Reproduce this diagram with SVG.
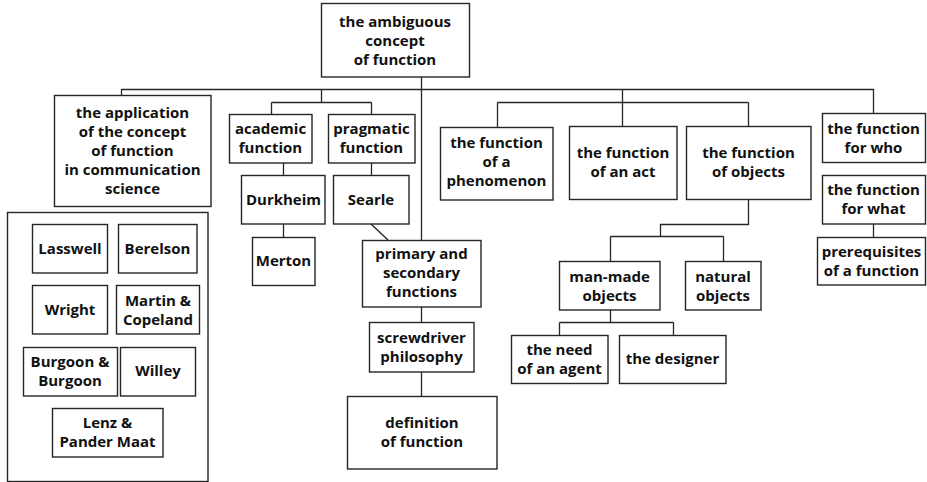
<svg xmlns="http://www.w3.org/2000/svg" width="927" height="482" viewBox="0 0 927 482">
  <style>
    .box { fill: #ffffff; stroke: #262626; stroke-width: 1.4; }
    .link { fill: none; stroke: #262626; stroke-width: 1.3; }
    text { font-family: "Open Sans", "Noto Sans", "DejaVu Sans", sans-serif; font-weight: 700; font-size: 15px; fill: #111111; text-anchor: middle; }
  </style>
  <rect width="927" height="482" fill="#ffffff"/>

  <!-- connectors -->
  <g id="connectors" class="link">
    <path d="M121.5,95 V89.5 H873.5 V113"/>
    <path d="M421.5,77 V240"/>
    <path d="M321.5,89.5 V102.5 M271.5,102.5 H371.5 M271.5,102.5 V114 M371.5,102.5 V114"/>
    <path d="M283.5,163 V175 M371.5,163 V175 M283.5,224 V237"/>
    <path d="M371,224 L388,240"/>
    <path d="M421.5,307 V322 M421.5,372 V396"/>
    <path d="M622.5,89.5 V126 M497.5,102.5 H748.5 M497.5,102.5 V127 M748.5,102.5 V126"/>
    <path d="M748.5,199 V224.5 H660.5 V236.5 M610.5,236.5 H723.5 M610.5,236.5 V261 M723.5,236.5 V261"/>
    <path d="M610.5,310 V322.5 M559.5,322.5 H673.5 M559.5,322.5 V335 M673.5,322.5 V335"/>
    <path d="M873.5,224 V237"/>
  </g>

  <!-- root -->
  <g id="ambiguous-concept">
    <rect class="box" x="321.5" y="3.5" width="148" height="73.5"/>
    <text x="395" y="26.5">the ambiguous</text>
    <text x="395" y="45.5">concept</text>
    <text x="395" y="64.5">of function</text>
  </g>

  <!-- communication science branch -->
  <g id="application">
    <rect class="box" x="54.5" y="95.5" width="156.5" height="111"/>
    <text x="132.5" y="117.5">the application</text>
    <text x="132.5" y="136.5">of the concept</text>
    <text x="132.5" y="155.5">of function</text>
    <text x="132.5" y="174.5">in communication</text>
    <text x="132.5" y="193.5">science</text>
  </g>
  <g id="authors">
    <rect class="box" x="7.5" y="212.5" width="200.5" height="269"/>
  </g>
  <g id="lasswell">
    <rect class="box" x="32.5" y="224.5" width="75" height="48.5"/>
    <text x="70" y="254">Lasswell</text>
  </g>
  <g id="berelson">
    <rect class="box" x="118.5" y="224.5" width="78.5" height="48.5"/>
    <text x="157.5" y="254">Berelson</text>
  </g>
  <g id="wright">
    <rect class="box" x="32.5" y="285.5" width="75" height="48.5"/>
    <text x="70" y="315">Wright</text>
  </g>
  <g id="martin-copeland">
    <rect class="box" x="116.5" y="285.5" width="83" height="48.5"/>
    <text x="158" y="305.5">Martin &amp;</text>
    <text x="158" y="324.5">Copeland</text>
  </g>
  <g id="burgoon">
    <rect class="box" x="23.5" y="347.5" width="94" height="48.5"/>
    <text x="70" y="367">Burgoon &amp;</text>
    <text x="70" y="386">Burgoon</text>
  </g>
  <g id="willey">
    <rect class="box" x="120.5" y="347.5" width="75" height="48.5"/>
    <text x="158" y="376">Willey</text>
  </g>
  <g id="lenz-pander-maat">
    <rect class="box" x="52.5" y="408.5" width="110.5" height="48.5"/>
    <text x="107.5" y="428">Lenz &amp;</text>
    <text x="107.5" y="447">Pander Maat</text>
  </g>

  <!-- academic / pragmatic -->
  <g id="academic">
    <rect class="box" x="229.5" y="114.5" width="82.5" height="48.5"/>
    <text x="270.5" y="134">academic</text>
    <text x="270.5" y="153">function</text>
  </g>
  <g id="pragmatic">
    <rect class="box" x="328.5" y="114.5" width="86.5" height="48.5"/>
    <text x="371.5" y="134">pragmatic</text>
    <text x="371.5" y="153">function</text>
  </g>
  <g id="durkheim">
    <rect class="box" x="241.5" y="175.5" width="83.5" height="48.5"/>
    <text x="283.5" y="205">Durkheim</text>
  </g>
  <g id="searle">
    <rect class="box" x="333.5" y="175.5" width="75.5" height="48.5"/>
    <text x="371" y="205">Searle</text>
  </g>
  <g id="merton">
    <rect class="box" x="252.5" y="237.5" width="62.5" height="48"/>
    <text x="283.5" y="266">Merton</text>
  </g>

  <!-- central column -->
  <g id="primary-secondary">
    <rect class="box" x="362.5" y="240.5" width="118.5" height="66.5"/>
    <text x="421.5" y="259">primary and</text>
    <text x="421.5" y="278">secondary</text>
    <text x="421.5" y="297">functions</text>
  </g>
  <g id="screwdriver">
    <rect class="box" x="369.5" y="322.5" width="104.5" height="49.5"/>
    <text x="421.5" y="342.5">screwdriver</text>
    <text x="421.5" y="361.5">philosophy</text>
  </g>
  <g id="definition">
    <rect class="box" x="347.5" y="396.5" width="149.5" height="72.5"/>
    <text x="422" y="427.5">definition</text>
    <text x="422" y="446.5">of function</text>
  </g>

  <!-- function of ... -->
  <g id="phenomenon">
    <rect class="box" x="440.5" y="127.5" width="112.5" height="72.5"/>
    <text x="496.5" y="147.5">the function</text>
    <text x="496.5" y="166.5">of a</text>
    <text x="496.5" y="185.5">phenomenon</text>
  </g>
  <g id="act">
    <rect class="box" x="569.5" y="126.5" width="107.5" height="73"/>
    <text x="623" y="158">the function</text>
    <text x="623" y="177">of an act</text>
  </g>
  <g id="objects">
    <rect class="box" x="686.5" y="126.5" width="124.5" height="73"/>
    <text x="748.5" y="158">the function</text>
    <text x="748.5" y="177">of objects</text>
  </g>
  <g id="man-made">
    <rect class="box" x="559.5" y="261.5" width="100.5" height="48.5"/>
    <text x="609.5" y="281.5">man-made</text>
    <text x="609.5" y="300.5">objects</text>
  </g>
  <g id="natural">
    <rect class="box" x="685.5" y="261.5" width="75.5" height="48.5"/>
    <text x="723" y="281.5">natural</text>
    <text x="723" y="300.5">objects</text>
  </g>
  <g id="need-of-agent">
    <rect class="box" x="511.5" y="335.5" width="96.5" height="48"/>
    <text x="559.5" y="355">the need</text>
    <text x="559.5" y="374">of an agent</text>
  </g>
  <g id="designer">
    <rect class="box" x="619.5" y="335.5" width="106.5" height="48"/>
    <text x="672.5" y="364">the designer</text>
  </g>

  <!-- right column -->
  <g id="for-who">
    <rect class="box" x="822.5" y="113.5" width="103" height="49"/>
    <text x="873.5" y="134">the function</text>
    <text x="873.5" y="153">for who</text>
  </g>
  <g id="for-what">
    <rect class="box" x="822.5" y="175.5" width="103" height="48.5"/>
    <text x="873.5" y="195">the function</text>
    <text x="873.5" y="214">for what</text>
  </g>
  <g id="prerequisites">
    <rect class="box" x="817.5" y="237.5" width="108" height="47.5"/>
    <text x="871.5" y="257">prerequisites</text>
    <text x="871.5" y="276">of a function</text>
  </g>
</svg>
